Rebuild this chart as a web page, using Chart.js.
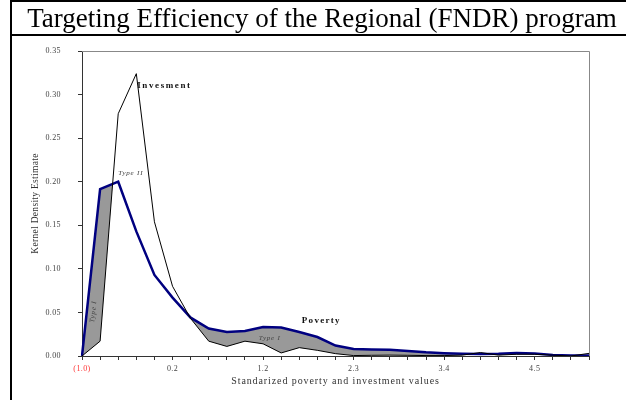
<!DOCTYPE html>
<html><head><meta charset="utf-8">
<script src="https://cdn.jsdelivr.net/npm/chart.js@4"></script>
<style>
html,body{margin:0;padding:0;background:#fff;}
#wrap{position:relative;width:626px;height:400px;overflow:hidden;background:#fff;}
#c{position:absolute;left:0;top:0;}
#title{position:absolute;left:15px;top:2px;width:614px;height:32px;line-height:32px;text-align:center;font-family:"Liberation Serif",serif;font-size:27px;color:#000;white-space:nowrap;}
.ln{position:absolute;background:#000;}
</style></head><body>
<div id="wrap">
<canvas id="c" width="626" height="400"></canvas>
<div id="title">Targeting Efficiency of the Regional (FNDR) program</div>
<div class="ln" style="left:10px;top:0;width:2px;height:400px"></div>
<div class="ln" style="left:10px;top:0;width:616px;height:2px"></div>
<div class="ln" style="left:10px;top:34px;width:616px;height:2px"></div>
</div>
<script>
const categories = ['(1.0)','','','','','0.2','','','','','1.2','','','','','2.3','','','','','3.4','','','','','4.5','','',''];
const investment = [0, 0.017, 0.278, 0.324, 0.154, 0.080, 0.043, 0.017, 0.011, 0.017, 0.014, 0.0035, 0.0096, 0.0065, 0.0027, 0.0005, 0.0008, 0.001, 0.0008, 0.0005, 0.0005, 0.001, 0.004, 0.001, 0.002, 0.002, 0.001, 0, 0.003];
const poverty = [0, 0.1915, 0.200, 0.143, 0.093, 0.067, 0.044, 0.0315, 0.0276, 0.0287, 0.0333, 0.0326, 0.0276, 0.0218, 0.012, 0.008, 0.0075, 0.0072, 0.0058, 0.0042, 0.0032, 0.0026, 0.0022, 0.0025, 0.0035, 0.003, 0.0012, 0.0005, 0.0005];
const yMin = 0, yMax = 0.35, yStep = 0.05;
const seriesNames = ['Invesment', 'Poverty'];
const regionLabels = ['Type I', 'Type II'];
const xTitle = 'Standarized poverty and investment values';
const yTitle = 'Kernel Density Estimate';

const SERIF = '"Liberation Serif", "Times New Roman", serif';

const spacingPlugin = {
  id: 'spacing',
  afterUpdate(chart) {
    const sp = {x: {drawTitle: '0.9px', drawLabels: '0.4px'}, y: {drawTitle: '0.3px', drawLabels: '0.4px'}};
    const ctx = chart.ctx;
    for (const id of ['x', 'y']) {
      const s = chart.scales[id];
      if (!s) continue;
      for (const m of ['drawTitle', 'drawLabels']) {
        const orig = s[m];
        if (!orig || orig.__patched) continue;
        const val = sp[id][m];
        const f = function (...args) {
          try { ctx.letterSpacing = val; } catch (e) {}
          try { return orig.apply(this, args); }
          finally { try { ctx.letterSpacing = '0px'; } catch (e) {} }
        };
        f.__patched = true;
        s[m] = f;
      }
    }
  }
};

const framePlugin = {
  id: 'frame',
  beforeDatasetsDraw(chart) {
    const {ctx, chartArea: a} = chart;
    ctx.save();
    ctx.strokeStyle = '#888';
    ctx.lineWidth = 1;
    ctx.beginPath();
    ctx.moveTo(a.left, a.top + 0.5);
    ctx.lineTo(a.right + 0.5, a.top + 0.5);
    ctx.lineTo(a.right + 0.5, a.bottom);
    ctx.stroke();
    ctx.restore();
  }
};

const notesPlugin = {
  id: 'notes',
  afterDatasetsDraw(chart) {
    const {ctx} = chart;
    const xs = chart.scales.x, ys = chart.scales.y;
    function put(text, idx, val, font, color, align, rot, spacing) {
      const x = xs.getPixelForValue(idx), y = ys.getPixelForValue(val);
      ctx.save();
      ctx.translate(x, y);
      if (rot) ctx.rotate(rot * Math.PI / 180);
      ctx.font = font;
      ctx.fillStyle = color;
      ctx.textAlign = align;
      ctx.textBaseline = 'middle';
      try { ctx.letterSpacing = spacing || '0px'; } catch (e) {}
      ctx.fillText(text, 0, 0);
      ctx.restore();
    }
    put(seriesNames[0], 3.05, 0.31, 'bold 9px ' + SERIF, '#111', 'left', 0, '1.6px');
    put(seriesNames[1], 12.14, 0.041, 'bold 9px ' + SERIF, '#111', 'left', 0, '1.3px');
    put(regionLabels[1], 2.0, 0.210, 'italic 7px ' + SERIF, '#444', 'left', 0, '0.8px');
    put(regionLabels[0], 9.76, 0.0207, 'italic 7px ' + SERIF, '#444', 'left', 0, '0.8px');
    put(regionLabels[0], 0.63, 0.051, 'italic 7px ' + SERIF, '#444', 'center', -84, '0.8px');
  }
};

new Chart(document.getElementById('c'), {
  type: 'line',
  data: {
    labels: categories,
    datasets: [
      {
        label: seriesNames[0],
        data: investment,
        borderColor: '#000',
        borderWidth: 1,
        pointRadius: 0,
        tension: 0,
        fill: {target: 1, above: 'rgba(0,0,0,0)', below: '#999999'}
      },
      {
        label: seriesNames[1],
        data: poverty,
        borderColor: '#000080',
        borderWidth: 2.5,
        pointRadius: 0,
        tension: 0,
        fill: false
      }
    ]
  },
  options: {
    responsive: false,
    animation: false,
    devicePixelRatio: 1,
    layout: {padding: {left: 0, top: 51, right: 37, bottom: 0}},
    plugins: {
      legend: {display: false},
      tooltip: {enabled: false},
      filler: {drawTime: 'beforeDatasetsDraw'}
    },
    scales: {
      x: {
        type: 'category',
        offset: false,
        afterFit(s) { s.height = 44; },
        grid: {offset: false, drawOnChartArea: false, drawTicks: true, tickLength: 4, color: '#333'},
        border: {color: '#333', width: 1},
        ticks: {
          autoSkip: false, maxRotation: 0, minRotation: 0, padding: 4,
          font: {family: SERIF, size: 8},
          color: (c) => c.index === 0 ? '#ff3333' : '#444'
        },
        title: {display: true, text: xTitle, font: {family: SERIF, size: 10}, color: '#333', padding: {top: 0, bottom: 13}}
      },
      y: {
        min: yMin, max: yMax,
        afterFit(s) { s.width = 82; },
        grid: {drawOnChartArea: false, drawTicks: true, tickLength: 4, color: '#333'},
        border: {color: '#333', width: 1},
        ticks: {
          stepSize: yStep, padding: 17,
          font: {family: SERIF, size: 8},
          color: '#444',
          callback: (v) => Number(v).toFixed(2)
        },
        title: {display: true, text: yTitle, font: {family: SERIF, size: 9.5}, color: '#333', padding: {top: 30, bottom: 0}}
      }
    }
  },
  plugins: [spacingPlugin, framePlugin, notesPlugin]
});
</script>
</body></html>
